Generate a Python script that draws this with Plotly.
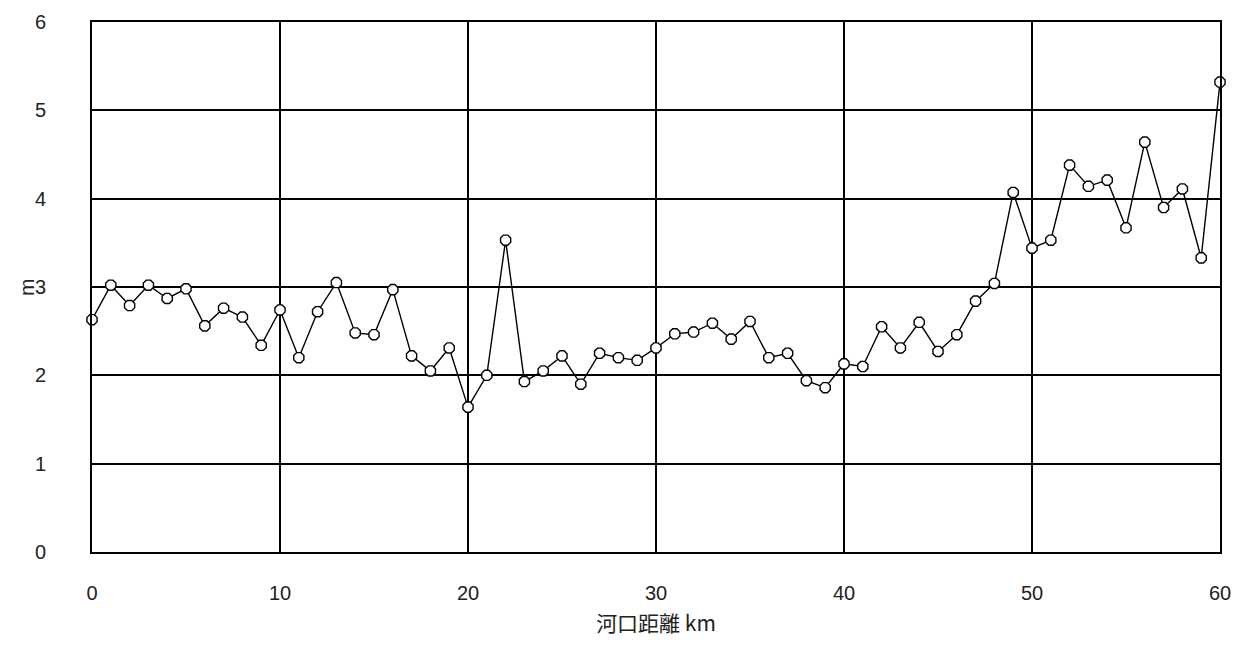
import plotly.graph_objects as go

distance_km = list(range(0, 61))
height_m = [2.63, 3.02, 2.79, 3.02, 2.87, 2.98, 2.56, 2.76, 2.66, 2.34,
            2.74, 2.20, 2.72, 3.05, 2.48, 2.46, 2.97, 2.22, 2.05, 2.31,
            1.64, 2.00, 3.53, 1.93, 2.05, 2.22, 1.90, 2.25, 2.20, 2.17,
            2.31, 2.47, 2.49, 2.59, 2.41, 2.61, 2.20, 2.25, 1.94, 1.86,
            2.13, 2.10, 2.55, 2.31, 2.60, 2.27, 2.46, 2.84, 3.04, 4.07,
            3.44, 3.53, 4.38, 4.14, 4.21, 3.67, 4.64, 3.90, 4.11, 3.33,
            5.32]
x_ticks = [0, 10, 20, 30, 40, 50, 60]
y_ticks = [0, 1, 2, 3, 4, 5, 6]

font_family = "Noto Sans CJK JP, DejaVu Sans, sans-serif"
tick_font = dict(family="Liberation Sans, Arial, sans-serif", size=20, color="#222")

fig = go.Figure()
fig.add_trace(go.Scatter(
    x=distance_km, y=height_m, mode="lines+markers",
    line=dict(color="black", width=1.4),
    marker=dict(symbol="octagon", size=11, color="white",
                line=dict(color="black", width=1.4)),
    cliponaxis=False, showlegend=False,
))

fig.update_layout(
    width=1250, height=652,
    margin=dict(l=84, r=38, t=14, b=108),
    paper_bgcolor="white", plot_bgcolor="white",
    font=dict(family=font_family, size=20, color="#222"),
)
fig.update_xaxes(
    range=[0, 60], tickvals=x_ticks, ticktext=[str(v) for v in x_ticks],
    tickfont=tick_font,
    showgrid=True, gridcolor="black", gridwidth=1.6,
    showline=True, linecolor="black", linewidth=1.6, mirror=True,
    zeroline=False, ticks="", ticklabelstandoff=22, automargin=False,
    ticklabeloverflow="allow",
    title=dict(text="河口距離 km", standoff=14, font=dict(size=21)),
)
fig.update_yaxes(
    range=[0, 6], tickvals=y_ticks, ticktext=[str(v) for v in y_ticks],
    tickfont=tick_font,
    showgrid=True, gridcolor="black", gridwidth=1.6,
    showline=True, linecolor="black", linewidth=1.6, mirror=True,
    zeroline=False, ticks="", ticklabelstandoff=40, automargin=False,
    ticklabeloverflow="allow",
)
fig.add_annotation(
    text="m", xref="paper", yref="paper", x=0, y=0.5,
    xanchor="center", yanchor="middle", xshift=-66, textangle=-90,
    showarrow=False,
    font=dict(family="Liberation Sans, Arial, sans-serif", size=21, color="#222"),
)

fig.write_html("out.html")
